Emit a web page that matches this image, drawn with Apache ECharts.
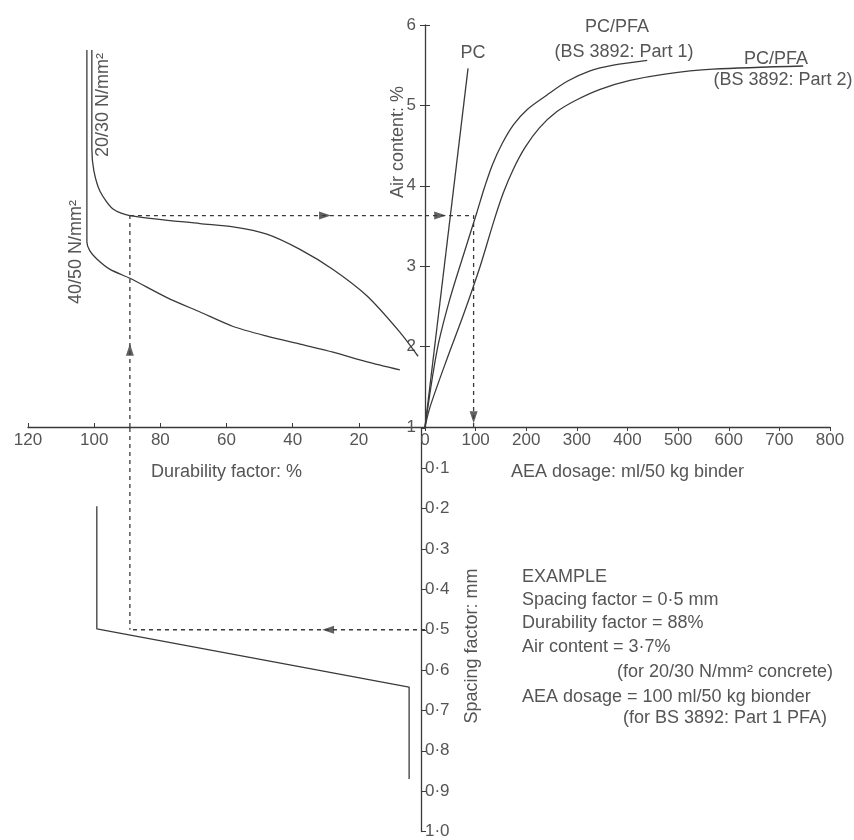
<!DOCTYPE html>
<html>
<head>
<meta charset="utf-8">
<script src="https://cdn.jsdelivr.net/npm/echarts@6/dist/echarts.min.js"></script>
<style>
  html, body { margin: 0; padding: 0; background: #fff; }
  #chart { width: 854px; height: 840px; }
</style>
</head>
<body>
<div id="chart"></div>
<script>
// durability factor (%) -> air content (%)
const curve2030 = [[100.7,5.69],[100.7,4.46],[100.1,4.19],[98.2,3.93],[94.3,3.71],[89.2,3.63],[68,3.53],[58,3.49],[47.8,3.4],[37.8,3.21],[27.8,2.96],[17.5,2.63],[7.6,2.18],[2.1,1.88]]
const curve4050 = [[102.2,5.69],[102.2,3.3],[101.3,3.19],[99.2,3.09],[95.2,2.96],[89.2,2.85],[78,2.61],[68,2.43],[58,2.25],[47.8,2.13],[37.8,2.03],[27.8,1.93],[17.5,1.81],[7.6,1.71]]
// AEA dosage (ml/50 kg) -> air content (%)
const pcLine = [[0,1],[85,5.46]]
const pfaPart1 = [[0,1],[24,1.96],[49,2.59],[80,3.22],[103,3.68],[117,3.97],[133,4.26],[152,4.52],[175,4.76],[202,4.95],[241,5.13],[281,5.3],[326,5.43],[372,5.5],[439,5.56]]
const pfaPart2 = [[0,1],[10,1.25],[43,1.84],[75,2.38],[109,3.0],[136,3.56],[154,3.9],[174,4.2],[198,4.48],[226,4.72],[260,4.92],[300,5.07],[346,5.2],[405,5.31],[474,5.39],[569,5.45],[747,5.49]]
// durability factor (%) -> spacing factor (mm)
const spacingCurve = [[99.2,0.194],[99.2,0.498],[4.8,0.642],[4.8,0.87]]
// worked example
const exDur = 89.2, exAir = 3.63, exAea = 96, exSpacing = 0.5

const durTicks = [0, 120, 20]
const airTicks = [1, 6, 1]
const aeaTicks = [0, 800, 100]
const spacingTicks = [0, 1, 0.1]

const ink = '#3a3a3a'
const txt = '#555'
const font = "'Liberation Sans', Arial, sans-serif"

function lineSeries (x, y, data, opts) {
  return Object.assign({
    type: 'line', xAxisIndex: x, yAxisIndex: y, data: data,
    symbol: 'none', silent: true,
    lineStyle: { color: ink, width: 1.3 }
  }, opts || {})
}
function dashed (x, y, data) {
  return lineSeries(x, y, data, { lineStyle: { color: ink, width: 1.3, type: [4, 4] } })
}
function arrow (x, y, pt, rot) {
  return {
    type: 'scatter', xAxisIndex: x, yAxisIndex: y, data: [pt], silent: true,
    symbol: 'triangle', symbolSize: [8, 12], symbolRotate: rot,
    itemStyle: { color: ink }
  }
}
function label (text, x, y, opts) {
  return {
    type: 'text', x: x, y: y, rotation: (opts && opts.rot) || 0, silent: true,
    style: {
      text: text, fill: txt, font: ((opts && opts.size) || 18) + 'px ' + font,
      align: (opts && opts.align) || 'center', verticalAlign: 'middle',
      textAlign: (opts && opts.align) || 'center', textVerticalAlign: 'middle'
    }
  }
}

const axisLineStyle = { show: true, onZero: false, lineStyle: { color: ink, width: 1.3 } }
const tickLabel = { color: txt, fontSize: 17, fontFamily: font }
const nameStyle = { color: txt, fontSize: 18, fontFamily: font }

let option = {
  animation: false,
  backgroundColor: '#fff',
  grid: [
    { left: 28, right: 429, top: 25, bottom: 413 },
    { left: 425, right: 24, top: 25, bottom: 413 },
    { left: 28, right: 429, top: 428, bottom: 4 }
  ],
  xAxis: [
    {
      gridIndex: 0, type: 'value', inverse: true,
      min: durTicks[0], max: durTicks[1], interval: durTicks[2],
      axisLine: axisLineStyle,
      axisTick: { inside: true, length: 4, lineStyle: { color: ink } },
      axisLabel: Object.assign({ margin: 5, formatter: v => v === 0 ? '' : v }, tickLabel),
      splitLine: { show: false },
      name: 'Durability factor: %', nameLocation: 'middle', nameGap: 36, nameTextStyle: nameStyle
    },
    {
      gridIndex: 1, type: 'value',
      min: aeaTicks[0], max: aeaTicks[1], interval: aeaTicks[2],
      axisLine: axisLineStyle,
      axisTick: { length: 4, lineStyle: { color: ink } },
      axisLabel: Object.assign({ margin: 5 }, tickLabel),
      splitLine: { show: false },
      name: 'AEA dosage: ml/50 kg binder', nameLocation: 'middle', nameGap: 36, nameTextStyle: nameStyle
    },
    {
      gridIndex: 2, type: 'value', inverse: true, show: false,
      min: durTicks[0], max: durTicks[1]
    }
  ],
  yAxis: [
    {
      gridIndex: 0, type: 'value', position: 'right',
      min: airTicks[0], max: airTicks[1], interval: airTicks[2],
      axisLine: axisLineStyle,
      axisTick: { inside: true, length: 5, lineStyle: { color: ink } },
      axisLabel: Object.assign({ inside: true, margin: 9 }, tickLabel),
      splitLine: { show: false }
    },
    {
      gridIndex: 1, type: 'value', position: 'left',
      min: airTicks[0], max: airTicks[1], interval: airTicks[2],
      axisLine: { show: false, onZero: false },
      axisTick: { inside: true, length: 5, lineStyle: { color: ink } },
      axisLabel: { show: false },
      splitLine: { show: false }
    },
    {
      gridIndex: 2, type: 'value', position: 'right', inverse: true, offset: -4,
      min: spacingTicks[0], max: spacingTicks[1], interval: spacingTicks[2],
      axisLine: axisLineStyle,
      axisTick: { length: 5, lineStyle: { color: ink } },
      axisLabel: Object.assign({
        margin: 4,
        formatter: v => v === 0 ? '' : (Math.round(v * 10) / 10).toFixed(1).replace('.', '·')
      }, tickLabel),
      splitLine: { show: false }
    }
  ],
  series: [
    lineSeries(0, 0, curve2030, { smooth: 0.25 }),
    lineSeries(0, 0, curve4050, { smooth: 0.25 }),
    lineSeries(1, 1, pcLine),
    lineSeries(1, 1, pfaPart1, { smooth: 0.3 }),
    lineSeries(1, 1, pfaPart2, { smooth: 0.3 }),
    lineSeries(2, 2, spacingCurve),
    dashed(0, 0, [[exDur, exAir], [0, exAir]]),
    dashed(0, 0, [[exDur, airTicks[0]], [exDur, exAir]]),
    dashed(1, 1, [[0, exAir], [exAea, exAir], [exAea, airTicks[0]]]),
    dashed(2, 2, [[exDur, 0], [exDur, exSpacing]]),
    dashed(2, 2, [[0, exSpacing], [exDur, exSpacing]]),
    arrow(0, 0, [30.2, exAir], -90),
    arrow(1, 1, [30, exAir], -90),
    arrow(1, 1, [exAea, 1.12], 180),
    arrow(0, 0, [exDur, 1.96], 0),
    arrow(2, 2, [29.3, exSpacing], 90)
  ],
  graphic: [
    label('Air content: %', 398, 142, { rot: Math.PI / 2 }),
    label('Spacing factor: mm', 472, 646, { rot: Math.PI / 2 }),
    label('20/30 N/mm²', 103, 105, { rot: Math.PI / 2 }),
    label('40/50 N/mm²', 76, 252, { rot: Math.PI / 2 }),
    label('PC', 473, 53),
    label('PC/PFA', 617, 27),
    label('(BS 3892: Part 1)', 624, 52),
    label('PC/PFA', 776, 59),
    label('(BS 3892: Part 2)', 783, 80),
    label('EXAMPLE', 522, 577, { align: 'left' }),
    label('Spacing factor = 0·5 mm', 522, 600, { align: 'left' }),
    label('Durability factor = 88%', 522, 623, { align: 'left' }),
    label('Air content = 3·7%', 522, 647, { align: 'left' }),
    label('(for 20/30 N/mm² concrete)', 833, 672, { align: 'right' }),
    label('AEA dosage = 100 ml/50 kg bionder', 522, 697, { align: 'left' }),
    label('(for BS 3892: Part 1 PFA)', 827, 718, { align: 'right' })
  ]
}

let dom = echarts.init(document.getElementById('chart'))
dom.setOption(option)
</script>
</body>
</html>
